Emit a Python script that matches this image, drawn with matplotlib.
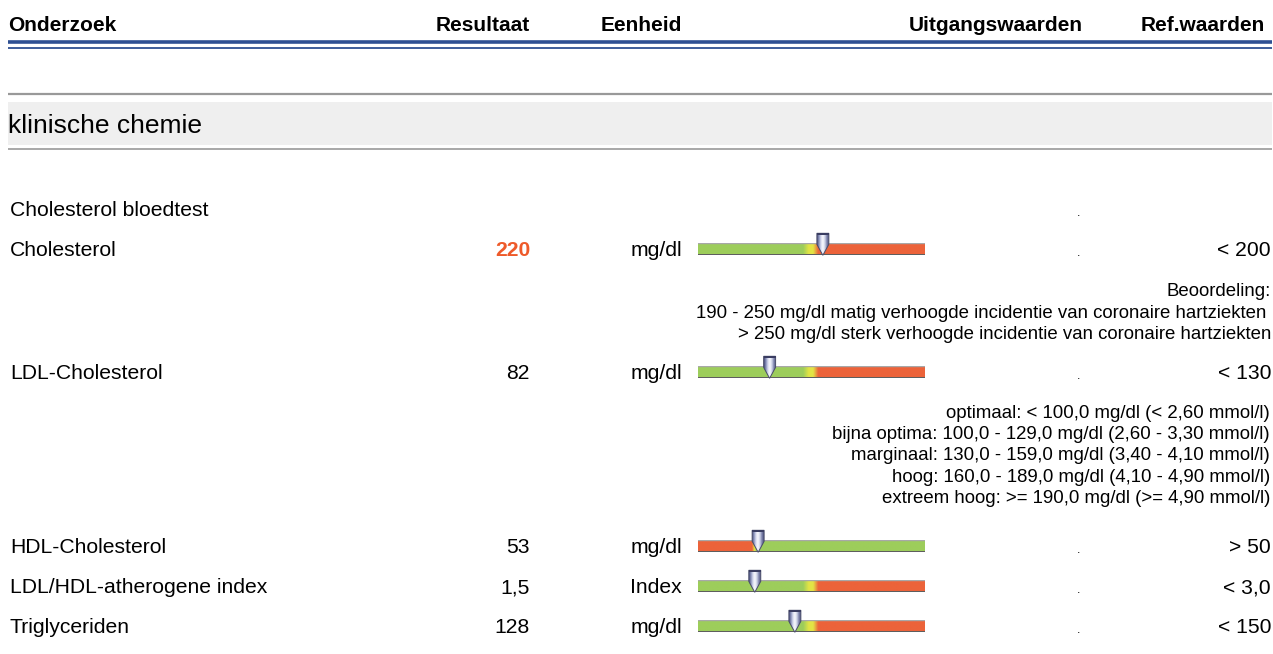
import numpy as np
import matplotlib
matplotlib.use("Agg")
import matplotlib.pyplot as plt
from matplotlib.colors import LinearSegmentedColormap
from matplotlib.patches import Polygon, Rectangle

plt.rcParams['font.family'] = ['Liberation Sans', 'DejaVu Sans']

# ---------------- data ----------------
headers = ["Onderzoek", "Resultaat", "Eenheid", "Uitgangswaarden", "Ref.waarden"]
section = "klinische chemie"
group = "Cholesterol bloedtest"
tests = ["Cholesterol", "LDL-Cholesterol", "HDL-Cholesterol",
         "LDL/HDL-atherogene index", "Triglyceriden"]
results = [220, 82, 53, 1.5, 128]
result_labels = ["220", "82", "53", "1,5", "128"]
units = ["mg/dl", "mg/dl", "mg/dl", "Index", "mg/dl"]
baseline_labels = [".", ".", ".", ".", "."]
ref_labels = ["< 200", "< 130", "> 50", "< 3,0", "< 150"]
ref_limits = [200, 130, 50, 3.0, 150]
ref_kind = ["upper", "upper", "lower", "upper", "upper"]
bar_max = [400, 260, 200, 6.0, 300]
chol_notes = ["Beoordeling:",
              "190 - 250 mg/dl matig verhoogde incidentie van coronaire hartziekten ",
              "> 250 mg/dl sterk verhoogde incidentie van coronaire hartziekten"]
ldl_notes = ["optimaal: < 100,0 mg/dl (< 2,60 mmol/l)",
             "bijna optima: 100,0 - 129,0 mg/dl (2,60 - 3,30 mmol/l)",
             "marginaal: 130,0 - 159,0 mg/dl (3,40 - 4,10 mmol/l)",
             "hoog: 160,0 - 189,0 mg/dl (4,10 - 4,90 mmol/l)",
             "extreem hoog: >= 190,0 mg/dl (>= 4,90 mmol/l)"]

# ---------------- layout ----------------
W, H = 1273, 654
fig = plt.figure(figsize=(W / 100, H / 100), dpi=100)
ax = fig.add_axes([0, 0, 1, 1])
ax.set_xlim(0, W)
ax.set_ylim(H, 0)
ax.axis('off')

MAIN = 15.2
SUB = 13.4
HEAD = 15
GREEN = "#9dcd5b"
YELLOW = "#e2e445"
RED = "#ec633a"
HIGH = "#ee5a2a"

# header
col_x = [8, 530, 682, 1083, 1265]
col_ha = ["left", "right", "right", "right", "right"]
for h, x, ha in zip(headers, col_x, col_ha):
    ax.text(x, 31, h, fontsize=HEAD, fontweight='bold', ha=ha, va='baseline')
ax.plot([8, 1272], [41.5, 41.5], color="#2e4f92", lw=2.6, solid_capstyle='butt')
ax.plot([8, 1272], [48.3, 48.3], color="#2e4f92", lw=1.3, solid_capstyle='butt')

# section
ax.plot([8, 1272], [94, 94], color="#999999", lw=1.6, solid_capstyle='butt')
ax.add_patch(Rectangle((8, 102), 1264, 43, color="#efefef", lw=0))
ax.plot([8, 1272], [149.3, 149.3], color="#999999", lw=1.2, solid_capstyle='butt')
ax.text(8, 133, section, fontsize=19, ha='left', va='baseline')

# group
ax.text(10, 216, group, fontsize=MAIN, ha='left', va='baseline')
ax.text(1080, 216, ".", fontsize=9, ha='right', va='baseline')

row_y = [249, 372, 546, 586, 626]
BAR_X0, BAR_X1, BAR_H = 698, 925, 12

insets = []
for i, (name, cy) in enumerate(zip(tests, row_y)):
    high = (ref_kind[i] == "upper" and results[i] > ref_limits[i]) or \
           (ref_kind[i] == "lower" and results[i] < ref_limits[i])
    ax.text(10, cy + 7, name, fontsize=MAIN, ha='left', va='baseline')
    ax.text(530, cy + 7, result_labels[i], fontsize=MAIN, ha='right', va='baseline',
            color=HIGH if high else 'black', fontweight='bold' if high else 'normal')
    ax.text(682, cy + 7, units[i], fontsize=MAIN, ha='right', va='baseline')
    ax.text(1080, cy + 7, baseline_labels[i], fontsize=9, ha='right', va='baseline')
    ax.text(1271, cy + 7, ref_labels[i], fontsize=MAIN, ha='right', va='baseline')

    # bar
    bx = fig.add_axes([BAR_X0 / W, 1 - (cy + BAR_H / 2) / H,
                       (BAR_X1 - BAR_X0) / W, BAR_H / H])
    bx.set_xlim(0, bar_max[i])
    bx.set_ylim(0, 1)
    bx.axis('off')
    lf = ref_limits[i] / bar_max[i]
    if ref_kind[i] == "upper":
        stops = [(0, GREEN), (lf - 0.037, GREEN), (lf - 0.012, YELLOW),
                 (lf + 0.008, YELLOW), (lf + 0.03, RED), (1, RED)]
    else:
        stops = [(0, RED), (lf - 0.012, RED), (lf - 0.003, YELLOW),
                 (lf + 0.008, GREEN), (1, GREEN)]
    cmap = LinearSegmentedColormap.from_list("b%d" % i, stops)
    grad = np.linspace(0, 1, 512)[None, :]
    bx.imshow(grad, cmap=cmap, extent=[0, bar_max[i], 0.08, 0.92],
              aspect='auto', interpolation='bilinear')
    bx.axhline(0.04, color="#5a5a5a", lw=1.4)
    bx.axhline(0.96, color="#a8a8a8", lw=1.0)
    insets.append(bx)

# notes
for k, t in enumerate(chol_notes):
    ax.text(1271, 296 + 21.5 * k, t, fontsize=SUB, ha='right', va='baseline')
for k, t in enumerate(ldl_notes):
    ax.text(1270, 418 + 21.2 * k, t, fontsize=SUB, ha='right', va='baseline')

# overlay for markers
top = fig.add_axes([0, 0, 1, 1])
top.set_xlim(0, W)
top.set_ylim(H, 0)
top.axis('off')
top.patch.set_alpha(0)

mcols = [(0.28, 0.30, 0.48), (0.55, 0.58, 0.74), (0.85, 0.86, 0.94),
         (0.98, 0.98, 1.0), (0.80, 0.82, 0.90), (0.50, 0.52, 0.68),
         (0.30, 0.32, 0.50)]
mcmap = LinearSegmentedColormap.from_list("m", mcols)
for i, bx in enumerate(insets):
    disp = bx.transData.transform((results[i], 0))
    mx, _ = top.transData.inverted().transform(disp)
    cy = row_y[i]
    by = cy + BAR_H / 2 + 0.3
    hw = 6.0
    verts = [(mx, by), (mx - hw, by - 11), (mx - hw, by - 22),
             (mx + hw, by - 22), (mx + hw, by - 11)]
    poly = Polygon(verts, closed=True, fc='none', ec="#4a4d6a", lw=0.7, zorder=5)
    top.add_patch(poly)
    im = top.imshow(np.linspace(0, 1, 64)[None, :], cmap=mcmap,
                    extent=(mx - hw, mx + hw, by, by - 22), origin='upper',
                    aspect='auto', interpolation='bilinear', zorder=4)
    im.set_clip_path(poly)
    cap = Rectangle((mx - hw, by - 22), 2 * hw, 1.2, color="#3a3d62", lw=0, zorder=6)
    top.add_patch(cap)

top.set_xlim(0, W)
top.set_ylim(H, 0)

fig.savefig("out.png", dpi=100)
